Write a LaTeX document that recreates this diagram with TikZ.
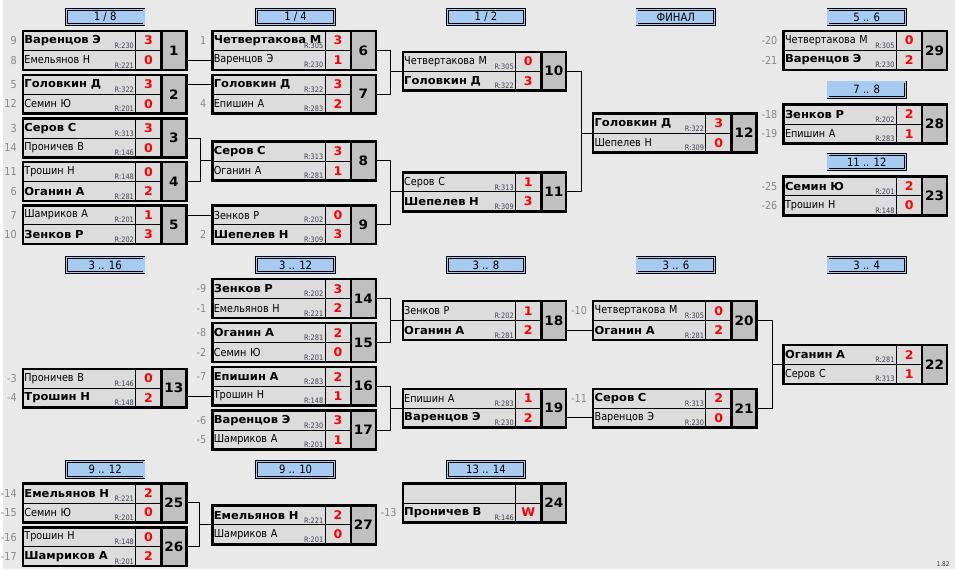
\documentclass[tikz,border=0pt]{standalone}
\usepackage{fontspec}
\setmainfont{DejaVu Sans}[FakeStretch=0.88, BoldFeatures={FakeStretch=1.05}]
\usetikzlibrary{positioning,calc}

\definecolor{pagebg}{HTML}{E9E9E9}
\definecolor{cellbg}{HTML}{DCDCDC}
\definecolor{numbg}{HTML}{C0C0C0}
\definecolor{hdrbg}{HTML}{A6CAF0}
\definecolor{seedgray}{HTML}{888888}
\definecolor{ratecol}{HTML}{404058}

% one match: id, x, y, name1, rating1, score1, name2, rating2, score2
\newcommand{\duel}[9]{%
  \node[namecell] (m#1a) at (#2,#3) {\mbox{#4}};
  \node[namecell, below=0pt of m#1a] (m#1b) {\mbox{#7}};
  \node[scorecell, right=0pt of m#1a] (m#1as) {#6};
  \node[scorecell, right=0pt of m#1b] (m#1bs) {#9};
  \node[numcell, anchor=north west] (m#1) at (m#1as.north east) {#1};
  \if\relax\detokenize{#5}\relax\else\node[rating] (m#1ar) at (m#1a.south east) {R:#5};\fi
  \if\relax\detokenize{#8}\relax\else\node[rating] (m#1br) at (m#1b.south east) {R:#8};\fi
  \draw[frame] (m#1a.north west) rectangle (m#1.south east);
  \draw[frame] (m#1.north west) -- (m#1.south west);
}
\newcommand{\seed}[2]{\node[seed, left=5pt of #1] (s#1) {#2};}

\begin{document}
\begin{tikzpicture}[
    x=1pt, y=-1pt,
    font=\fontsize{11}{13}\selectfont,
    namecell/.style={rectangle, draw, line width=0.8pt, fill=cellbg, anchor=north west,
        text width=110pt, align=left, inner xsep=1.5pt, inner ysep=0pt,
        minimum height=19.5pt, outer sep=0pt},
    scorecell/.style={rectangle, draw, line width=0.8pt, fill=cellbg, minimum width=26pt,
        minimum height=19.5pt, inner sep=0pt, outer sep=0pt, text=red,
        font=\fontsize{12}{14}\selectfont\bfseries},
    numcell/.style={rectangle, fill=numbg, minimum width=25pt, minimum height=39pt,
        inner sep=0pt, outer sep=0pt, font=\fontsize{13}{15}\selectfont\bfseries},
    rating/.style={anchor=south east, inner xsep=1.5pt, inner ysep=1.5pt, text=ratecol,
        font=\fontsize{7.5}{8}\selectfont},
    frame/.style={line width=2.5pt},
    link/.style={line width=1pt},
    seed/.style={text=seedgray, inner sep=1pt},
    hdr/.style={rectangle, draw, fill=hdrbg, double=hdrbg, double distance=1.2pt,
        line width=0.8pt, minimum width=78pt, minimum height=15.5pt, inner sep=0pt,
        font=\fontsize{11.5}{13}\selectfont}
]

% Page
\fill[pagebg] (0,0) rectangle (955,571);

% Headers
\node[hdr] (h8th) at (102.5,17) {1 / 8};
\node[hdr] (h4th) at (293.5,17) {1 / 4};
\node[hdr] (hsemi) at (484.5,17) {1 / 2};
\node[hdr] (hfinal) at (675,17) {ФИНАЛ};
\node[hdr] (h56) at (866.5,17) {5 .. 6};
\node[hdr] (h78) at (866.5,90) {7 .. 8};
\node[hdr] (h1112) at (866.5,162.5) {11 .. 12};
\node[hdr] (h316) at (102.5,266) {3 .. 16};
\node[hdr] (h312) at (293.5,266) {3 .. 12};
\node[hdr] (h38) at (484.5,266) {3 .. 8};
\node[hdr] (h36) at (675,266) {3 .. 6};
\node[hdr] (h34) at (866.5,266) {3 .. 4};
\node[hdr] (h912) at (102.5,471) {9 .. 12};
\node[hdr] (h910) at (293.5,471) {9 .. 10};
\node[hdr] (h1314) at (484.5,471) {13 .. 14};

% Main bracket
\duel{1}{20}{31}{\bfseries Варенцов Э}{230}{3}{Емельянов Н}{221}{0}
\duel{2}{20}{75}{\bfseries Головкин Д}{322}{3}{Семин Ю}{201}{0}
\duel{3}{20}{119}{\bfseries Серов С}{313}{3}{Проничев В}{146}{0}
\duel{4}{20}{162.5}{Трошин Н}{148}{0}{\bfseries Оганин А}{281}{2}
\duel{5}{20}{206}{Шамриков А}{201}{1}{\bfseries Зенков Р}{202}{3}
\duel{6}{210}{31}{\bfseries Четвертакова М}{305}{3}{Варенцов Э}{230}{1}
\duel{7}{210}{75}{\bfseries Головкин Д}{322}{3}{Епишин А}{283}{2}
\duel{8}{210}{142}{\bfseries Серов С}{313}{3}{Оганин А}{281}{1}
\duel{9}{210}{206}{Зенков Р}{202}{0}{\bfseries Шепелев Н}{309}{3}
\duel{10}{401}{52}{Четвертакова М}{305}{0}{\bfseries Головкин Д}{322}{3}
\duel{11}{401}{173}{Серов С}{313}{1}{\bfseries Шепелев Н}{309}{3}
\duel{12}{592}{114}{\bfseries Головкин Д}{322}{3}{Шепелев Н}{309}{0}

% Places 5..12
\duel{29}{783}{31}{Четвертакова М}{305}{0}{\bfseries Варенцов Э}{230}{2}
\duel{28}{783}{105}{\bfseries Зенков Р}{202}{2}{Епишин А}{283}{1}
\duel{23}{783}{177}{\bfseries Семин Ю}{201}{2}{Трошин Н}{148}{0}

% Consolation bracket
\duel{13}{20}{370}{Проничев В}{146}{0}{\bfseries Трошин Н}{148}{2}
\duel{14}{210}{280}{\bfseries Зенков Р}{202}{3}{Емельянов Н}{221}{2}
\duel{15}{210}{324}{\bfseries Оганин А}{281}{2}{Семин Ю}{201}{0}
\duel{16}{210}{368}{\bfseries Епишин А}{283}{2}{Трошин Н}{148}{1}
\duel{17}{210}{412}{\bfseries Варенцов Э}{230}{3}{Шамриков А}{201}{1}
\duel{18}{401}{302}{Зенков Р}{202}{1}{\bfseries Оганин А}{281}{2}
\duel{19}{401}{390}{Епишин А}{283}{1}{\bfseries Варенцов Э}{230}{2}
\duel{20}{592}{302}{Четвертакова М}{305}{0}{\bfseries Оганин А}{281}{2}
\duel{21}{592}{390}{\bfseries Серов С}{313}{2}{Варенцов Э}{230}{0}
\duel{22}{783}{346}{\bfseries Оганин А}{281}{2}{Серов С}{313}{1}

% Places 9..14
\duel{25}{20}{485}{\bfseries Емельянов Н}{221}{2}{Семин Ю}{201}{0}
\duel{26}{20}{529}{Трошин Н}{148}{0}{\bfseries Шамриков А}{201}{2}
\duel{27}{210}{507}{\bfseries Емельянов Н}{221}{2}{Шамриков А}{201}{0}
\duel{24}{401}{485}{}{}{}{\bfseries Проничев В}{146}{W}

% Seeds
\seed{m1a}{9} \seed{m1b}{8} \seed{m2a}{5} \seed{m2b}{12}
\seed{m3a}{3} \seed{m3b}{14} \seed{m4a}{11} \seed{m4b}{6}
\seed{m5a}{7} \seed{m5b}{10}
\seed{m6a}{1} \seed{m7b}{4} \seed{m9b}{2}
\seed{m29a}{-20} \seed{m29b}{-21} \seed{m28a}{-18} \seed{m28b}{-19}
\seed{m23a}{-25} \seed{m23b}{-26}
\seed{m13a}{-3} \seed{m13b}{-4}
\seed{m14a}{-9} \seed{m14b}{-1} \seed{m15a}{-8} \seed{m15b}{-2}
\seed{m16a}{-7} \seed{m17a}{-6} \seed{m17b}{-5}
\seed{m20a}{-10} \seed{m21a}{-11}
\seed{m24b}{-13}
\seed{m25a}{-14} \seed{m25b}{-15} \seed{m26a}{-16} \seed{m26b}{-17}

% Connectors, main bracket
\draw[link] (m1.east |- m6b.west) -- (m6b.west);
\draw[link] (m2.east |- m7a.west) -- (m7a.west);
\coordinate (j8) at ($(m8a.south west)+(-12,0)$);
\draw[link] (m3.east) -| (j8) |- (m4.east);
\draw[link] (j8) -- (m8a.south west);
\draw[link] (m5.east |- m9a.west) -- (m9a.west);
\coordinate (j10) at ($(m10a.south west)+(-12,0)$);
\draw[link] (m6.east) -| (j10) |- (m7.east);
\draw[link] (j10) -- (m10a.south west);
\coordinate (j11) at ($(m11a.south west)+(-12,0)$);
\draw[link] (m8.east) -| (j11) |- (m9.east);
\draw[link] (j11) -- (m11a.south west);
\coordinate (j12) at ($(m12a.south west)+(-12,0)$);
\draw[link] (m10.east) -| (j12) |- (m11.east);
\draw[link] (j12) -- (m12a.south west);

% Connectors, consolation bracket
\draw[link] (m13.east |- m16b.west) -- (m16b.west);
\coordinate (j18) at ($(m18a.south west)+(-12,0)$);
\draw[link] (m14.east) -| (j18) |- (m15.east);
\draw[link] (j18) -- (m18a.south west);
\coordinate (j19) at ($(m19a.south west)+(-12,0)$);
\draw[link] (m16.east) -| (j19) |- (m17.east);
\draw[link] (j19) -- (m19a.south west);
\draw[link] (m18.east |- m20b.west) -- (m20b.west);
\draw[link] (m19.east |- m21b.west) -- (m21b.west);
\coordinate (j22) at ($(m22a.south west)+(-11,0)$);
\draw[link] (m20.east) -| (j22) |- (m21.east);
\draw[link] (j22) -- (m22a.south west);
\coordinate (j27) at ($(m27a.south west)+(-13,0)$);
\draw[link] (m25.east) -| (j27) |- (m26.east);
\draw[link] (j27) -- (m27a.south west);

% Version
\node[font=\fontsize{6.5}{8}\selectfont, text=black!80] (ver) at (943,566) {1.82};

\end{tikzpicture}
\end{document}
